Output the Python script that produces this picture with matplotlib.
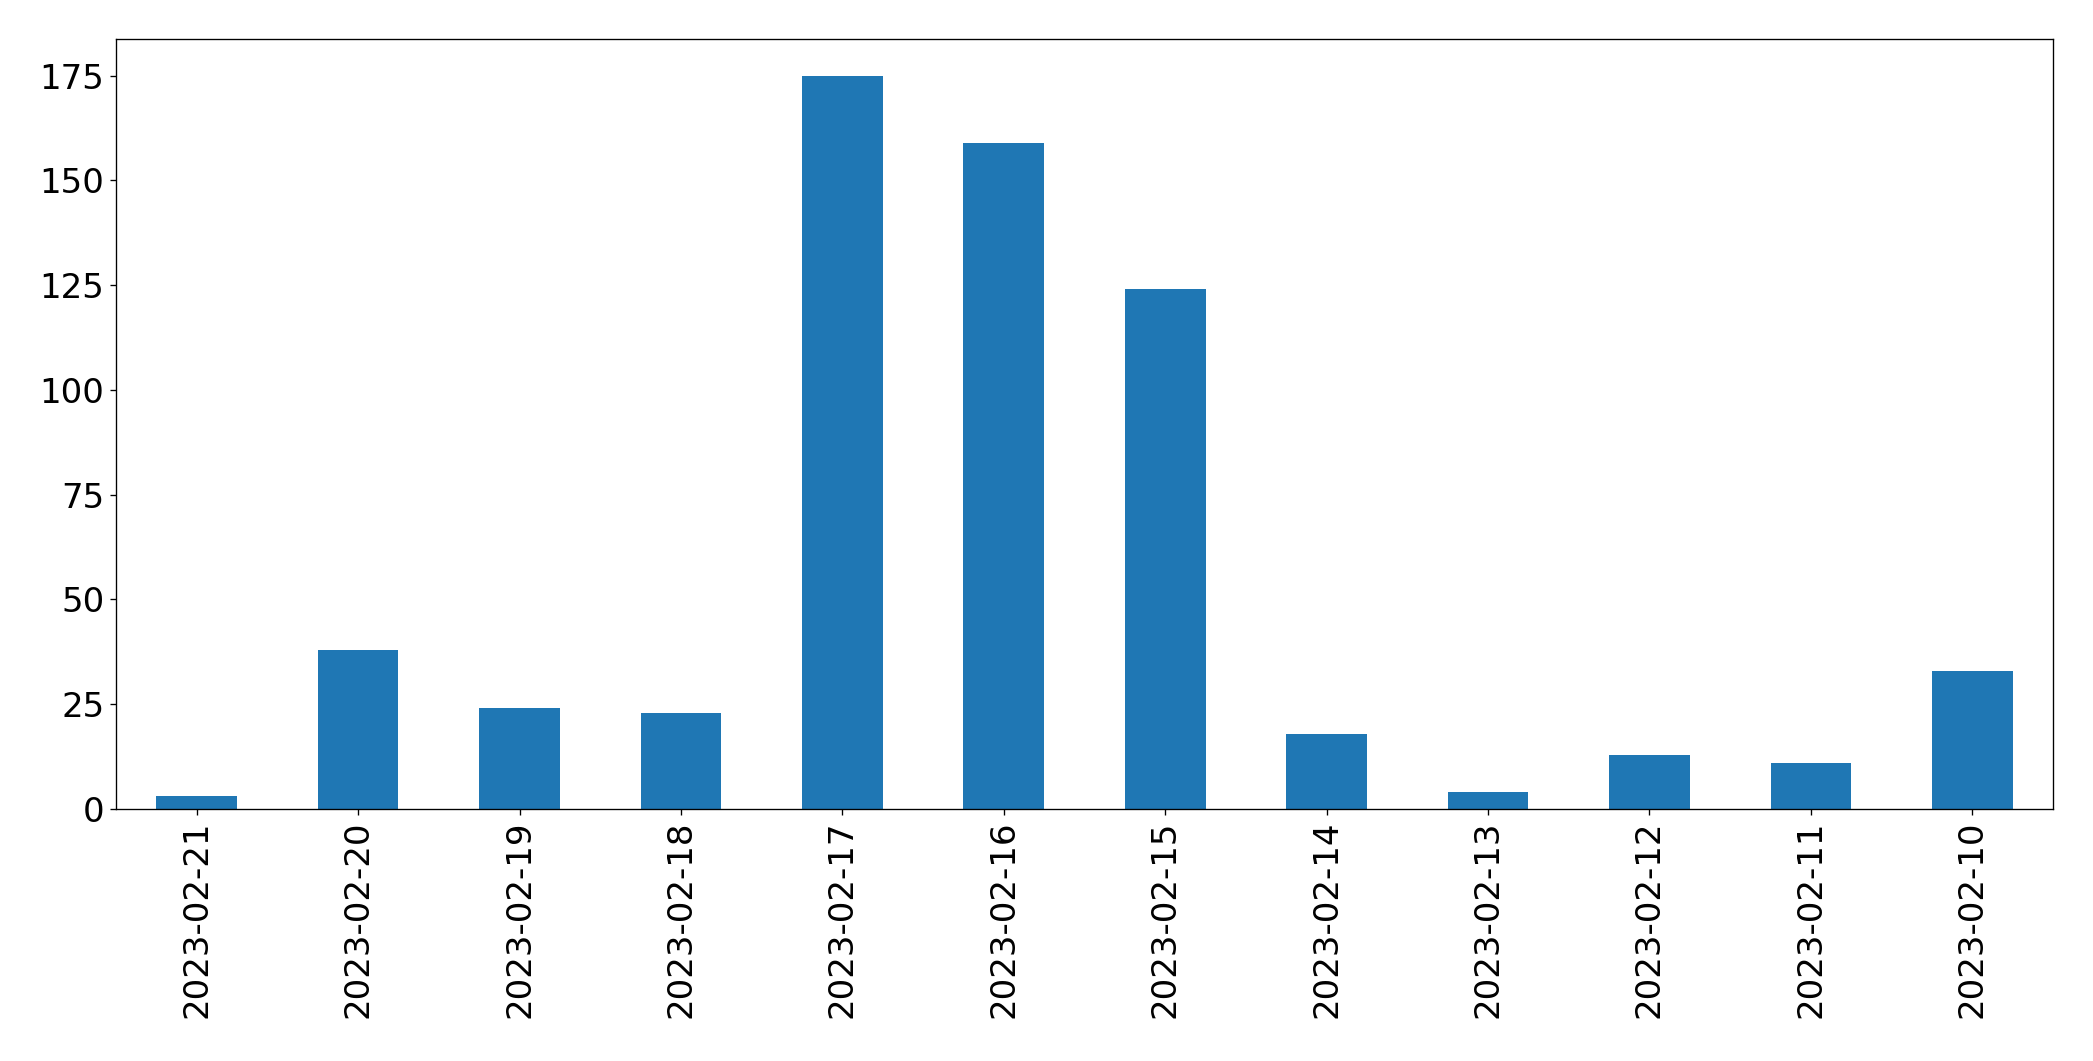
import matplotlib
matplotlib.use("Agg")
import matplotlib.pyplot as plt
import numpy as np

dates = ["2023-02-21", "2023-02-20", "2023-02-19", "2023-02-18", "2023-02-17", "2023-02-16",
         "2023-02-15", "2023-02-14", "2023-02-13", "2023-02-12", "2023-02-11", "2023-02-10"]
counts = [3, 38, 24, 23, 175, 159, 124, 18, 4, 13, 11, 33]

W, H = 2093, 1061
fig = plt.figure(figsize=(W / 100, H / 100), dpi=100)
ax = fig.add_axes([116 / W, 1 - 809 / H, (2053 - 116) / W, (809 - 39) / H])

x = np.arange(len(dates))
ax.bar(x, counts, width=0.5, color="#1f77b4")
ax.set_xlim(-0.5, len(dates) - 0.5)
ax.set_ylim(0, max(counts) * 1.05)
ax.set_xticks(x)
ax.set_xticklabels(dates, rotation=90, fontsize=24.5)
ax.set_yticks([0, 25, 50, 75, 100, 125, 150, 175])
ax.tick_params(axis="y", labelsize=24.5)
ax.tick_params(length=4.2, pad=4.2, width=0.96)
for s in ax.spines.values():
    s.set_linewidth(0.96)

fig.savefig("out.png", dpi=100)
